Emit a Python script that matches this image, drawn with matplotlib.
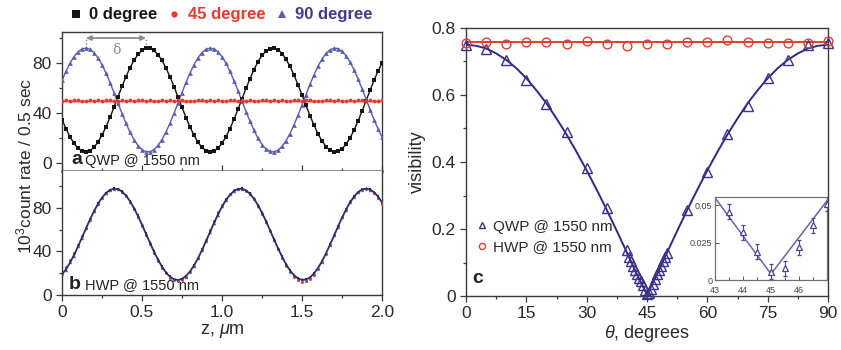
import matplotlib
matplotlib.use("Agg")
import matplotlib.pyplot as plt
import numpy as np
from matplotlib.ticker import MultipleLocator, FixedLocator, FixedFormatter

plt.rcParams['font.family'] = ['Liberation Sans', 'DejaVu Sans']
plt.rcParams['mathtext.fontset'] = 'custom'
plt.rcParams['mathtext.rm'] = 'Liberation Sans'
plt.rcParams['mathtext.it'] = 'Liberation Sans:italic'

# ---------------- data ----------------
# panel a: QWP @ 1550 nm, z positions (um), 25 nm steps
z_a = np.linspace(0.0, 2.0, 81)
black_a = [34.9, 27.6, 21.1, 15.8, 12.0, 9.7, 9.0, 10.0, 12.7, 16.9,
           22.4, 29.1, 36.6, 44.7, 53.1, 61.3, 69.1, 76.2, 82.2, 86.9,
           90.1, 91.8, 91.8, 90.1, 86.8, 82.1, 76.0, 69.0, 61.2, 52.9,
           44.6, 36.5, 29.0, 22.3, 16.8, 12.6, 10.0, 9.0, 9.7, 12.0,
           15.9, 21.2, 27.7, 35.1, 43.1, 51.4, 59.7, 67.6, 74.8, 81.1,
           86.1, 89.6, 91.6, 91.9, 90.6, 87.6, 83.1, 77.3, 70.4, 62.7,
           54.6, 46.2, 38.0, 30.4, 23.5, 17.8, 13.3, 10.4, 9.1, 9.4,
           11.5, 15.1, 20.1, 26.4, 33.6, 41.5, 49.8, 58.1, 66.1, 73.5,
           79.9]
blue_a = [66.1, 73.4, 79.9, 85.2, 89.0, 91.3, 92.0, 91.0, 88.3, 84.1,
          78.6, 71.9, 64.4, 56.3, 47.9, 39.7, 31.9, 24.8, 18.8, 14.1,
          10.9, 9.2, 9.2, 10.9, 14.2, 18.9, 25.0, 32.0, 39.8, 48.1,
          56.4, 64.5, 72.0, 78.7, 84.2, 88.4, 91.0, 92.0, 91.3, 89.0,
          85.1, 79.8, 73.3, 65.9, 57.9, 49.6, 41.3, 33.4, 26.2, 19.9,
          14.9, 11.4, 9.4, 9.1, 10.4, 13.4, 17.9, 23.7, 30.6, 38.3,
          46.4, 54.8, 63.0, 70.6, 77.5, 83.2, 87.7, 90.6, 91.9, 91.6,
          89.5, 85.9, 80.9, 74.6, 67.4, 59.5, 51.2, 42.9, 34.9, 27.5,
          21.1]
red_a = [49.8, 50.3, 49.6, 50.1, 50.4, 49.7, 50.0, 50.5, 49.9, 50.2,
         49.5, 50.1, 50.3, 49.8, 50.0, 50.4, 49.7, 50.2, 49.9, 50.6,
         50.1, 49.8, 50.3, 49.6, 50.0, 50.2, 49.9, 50.5, 49.7, 50.1,
         50.3, 49.8, 50.0, 49.6, 50.2, 50.4, 49.9, 50.1, 49.7, 50.3,
         50.0, 49.8, 50.5, 50.1, 49.6, 50.2, 49.9, 50.3, 50.0, 49.7,
         50.4, 50.1, 49.8, 50.2, 49.9, 50.6, 50.0, 49.7, 50.3, 50.1,
         49.8, 50.2, 50.4, 49.9, 50.0, 49.6, 50.3, 50.1, 49.8, 50.5,
         50.0, 49.7, 50.2, 49.9, 50.3, 50.1, 49.8, 50.4, 50.0, 49.7,
         50.2]

# panel b: HWP @ 1550 nm
z_b = np.linspace(0.0, 2.0, 81)
fit_b = [18.9, 23.7, 29.7, 36.8, 44.6, 52.9, 61.2, 69.4, 77.0, 83.8,
         89.5, 93.8, 96.6, 97.8, 97.3, 95.1, 91.4, 86.2, 79.9, 72.6,
         64.6, 56.2, 47.9, 39.8, 32.4, 26.0, 20.7, 16.8, 14.5, 13.8,
         14.8, 17.4, 21.6, 27.2, 33.8, 41.4, 49.5, 57.9, 66.2, 74.1,
         81.2, 87.4, 92.2, 95.7, 97.5, 97.7, 96.2, 93.0, 88.5, 82.5,
         75.6, 67.8, 59.6, 51.2, 43.0, 35.3, 28.4, 22.6, 18.2, 15.2,
         13.9, 14.2, 16.2, 19.8, 24.8, 31.0, 38.3, 46.2, 54.5, 62.9,
         71.0, 78.5, 85.1, 90.5, 94.5, 97.0, 97.8, 97.0, 94.5, 90.5,
         85.1]
black_b = [18.5, 23.9, 29.2, 37.3, 44.1, 53.4, 60.8, 69.9, 76.5, 84.2,
           89.1, 94.2, 96.3, 98.1, 97.0, 95.5, 91.0, 86.7, 79.4, 73.1,
           64.1, 56.7, 47.4, 40.3, 31.9, 26.5, 20.3, 17.2, 14.1, 14.2,
           14.4, 17.9, 21.2, 27.7, 33.3, 41.9, 49.0, 58.4, 65.7, 74.6,
           80.8, 87.9, 91.8, 96.0, 97.2, 98.0, 95.8, 93.4, 88.1, 83.0,
           75.1, 68.3, 59.1, 51.7, 42.5, 35.8, 27.9, 23.1, 17.8, 15.6,
           13.5, 14.6, 15.8, 20.3, 24.3, 31.5, 37.8, 46.7, 54.0, 63.4,
           70.5, 79.0, 84.6, 90.9, 94.1, 97.4, 97.5, 97.3, 94.1, 90.9,
           84.7]
red_b = [20.5, 26.0, 32.1, 38.9, 46.2, 54.1, 62.0, 70.1, 77.4, 84.0,
         89.4, 93.6, 96.4, 97.6, 97.1, 94.8, 90.9, 85.6, 79.2, 71.8,
         63.7, 55.4, 47.0, 38.9, 31.5, 25.1, 19.8, 15.9, 13.4, 12.6,
         13.6, 16.5, 21.0, 27.0, 34.2, 42.3, 50.8, 59.6, 68.1, 76.0,
         82.9, 88.7, 93.0, 96.2, 97.6, 97.5, 95.7, 92.4, 87.8, 81.8,
         74.8, 67.0, 58.7, 50.3, 41.9, 34.1, 27.1, 21.3, 16.8, 13.6,
         12.3, 12.6, 14.8, 18.6, 23.8, 30.3, 37.9, 46.2, 54.8, 63.5,
         71.8, 79.4, 86.0, 91.2, 95.0, 97.2, 97.7, 96.6, 93.8, 89.5,
         83.6]
blue_b = [19.4, 23.2, 30.1, 36.3, 45.0, 52.4, 61.7, 68.9, 77.5, 83.3,
          89.9, 93.4, 96.9, 97.5, 97.6, 94.7, 91.8, 85.8, 80.3, 72.2,
          65.0, 55.8, 48.3, 39.4, 32.8, 25.6, 21.1, 16.4, 14.9, 13.4,
          15.2, 17.0, 22.0, 26.8, 34.2, 41.0, 49.9, 57.5, 66.6, 73.7,
          81.6, 87.0, 92.6, 95.3, 97.9, 97.4, 96.6, 92.6, 88.9, 82.1,
          76.0, 67.4, 60.0, 50.8, 43.4, 34.9, 28.8, 22.2, 18.6, 14.8,
          14.3, 13.8, 16.6, 19.4, 25.2, 30.6, 38.7, 45.8, 54.9, 62.5,
          71.4, 78.1, 85.5, 90.1, 94.9, 96.6, 98.1, 96.7, 94.9, 90.2,
          85.5]

z_ticks = [0, 0.5, 1.0, 1.5, 2.0]
z_ticklabels = ['0', '0.5', '1.0', '1.5', '2.0']

# panel c: visibility vs theta
theta_qwp = [0, 5, 10, 15, 20, 25, 30, 35,
             40, 40.5, 41, 41.5, 42, 42.5, 43, 43.5, 44, 44.5, 45,
             45.5, 46, 46.5, 47, 47.5, 48, 48.5, 49, 49.5, 50,
             55, 60, 65, 70, 75, 80, 85, 90]
vis_qwp = [0.750, 0.736, 0.705, 0.645, 0.572, 0.489, 0.381, 0.264,
           0.137, 0.117, 0.104, 0.091, 0.078, 0.065, 0.053, 0.0455, 0.032, 0.019, 0.0055,
           0.008, 0.022, 0.0367, 0.051, 0.065, 0.078, 0.091, 0.104, 0.117, 0.128,
           0.257, 0.371, 0.483, 0.568, 0.650, 0.705, 0.750, 0.755]
theta_fit = [0, 2.5, 5, 7.5, 10, 12.5, 15, 17.5, 20, 22.5, 25, 27.5, 30, 32.5,
             35, 37.5, 40, 42.5, 45, 47.5, 50, 52.5, 55, 57.5, 60, 62.5, 65,
             67.5, 70, 72.5, 75, 77.5, 80, 82.5, 85, 87.5, 90]
vis_fit = [0.750, 0.747, 0.739, 0.724, 0.705, 0.680, 0.650, 0.614, 0.575,
           0.530, 0.482, 0.430, 0.375, 0.317, 0.257, 0.194, 0.130, 0.065,
           0.004, 0.065, 0.130, 0.194, 0.257, 0.317, 0.375, 0.430, 0.482,
           0.530, 0.575, 0.614, 0.650, 0.680, 0.705, 0.724, 0.739, 0.747, 0.750]
theta_hwp = [0, 5, 10, 15, 20, 25, 30, 35, 40, 45, 50, 55, 60, 65, 70, 75, 80, 85, 90]
vis_hwp = [0.755, 0.757, 0.753, 0.759, 0.757, 0.753, 0.761, 0.753, 0.747, 0.752,
           0.752, 0.757, 0.757, 0.763, 0.758, 0.755, 0.756, 0.755, 0.760]
hwp_fit_theta = [0, 90]
hwp_fit_vis = [0.758, 0.758]
theta_ticks = [0, 15, 30, 45, 60, 75, 90]
vis_ticks = [0, 0.2, 0.4, 0.6, 0.8]
vis_ticklabels = ['0', '0.2', '0.4', '0.6', '0.8']

# inset
theta_in = [43.5, 44, 44.5, 45, 45.5, 46, 46.5, 47]
vis_in = [0.0455, 0.032, 0.019, 0.0055, 0.008, 0.022, 0.0367, 0.051]
err_in = [0.005, 0.005, 0.005, 0.005, 0.005, 0.005, 0.005, 0.005]
theta_in_fit = [43, 45, 47]
vis_in_fit = [0.055, 0.004, 0.053]
in_xticks = [43, 44, 45, 46]
in_yticks = [0, 0.025, 0.05]
in_yticklabels = ['0', '0.025', '0.05']

# ---------------- style ----------------
C_BLACK = '#151515'
C_RED = '#e83a2e'
C_BLUE = '#5a5fae'
C_NAVY = '#3a3290'
C_SPINE = '#3a3a3a'
W, H = 841, 350


def fx(x):
    return x / W


def fy(y):
    return 1 - y / H


fig = plt.figure(figsize=(W / 100, H / 100), dpi=100)

L, R = 62, 382
axa = fig.add_axes([fx(L), fy(171), fx(R - L), (171 - 32) / H])
axb = fig.add_axes([fx(L), fy(295), fx(R - L), (295 - 171) / H])
axc = fig.add_axes([fx(466), fy(296), fx(828 - 466), (296 - 28) / H])
axin = fig.add_axes([fx(715), fy(280), fx(827 - 715), (280 - 197) / H])

TICK_FS = 12.5
for ax in (axa, axb, axc):
    for s in ax.spines.values():
        s.set_color(C_SPINE)
        s.set_linewidth(1.0)
    ax.tick_params(which='both', direction='out', color=C_SPINE,
                   labelsize=TICK_FS, labelcolor='#2a2a2a', width=0.9)
    ax.tick_params(which='major', length=4)
    ax.tick_params(which='minor', length=2.5)

# ---- panel a ----
axa.plot(z_a, black_a, color=C_BLACK, lw=1.0, zorder=2)
axa.plot(z_a, blue_a, color=C_BLUE, lw=1.0, zorder=2)
red_mean = float(np.mean(red_a))
axa.plot([z_a[0], z_a[-1]], [red_mean, red_mean], color=C_RED, lw=1.0, zorder=2)
h0, = axa.plot(z_a, black_a, 's', color=C_BLACK, ms=3.2, mew=0, zorder=3)
h90, = axa.plot(z_a, blue_a, '^', color=C_BLUE, ms=3.4, mew=0, zorder=3)
h45, = axa.plot(z_a, red_a, 'o', color=C_RED, ms=2.8, mew=0, zorder=3)
axa.set_xlim(0, 2.0)
axa.set_ylim(-6.2, 104.8)
axa.yaxis.set_major_locator(FixedLocator([0, 40, 80]))
axa.yaxis.set_minor_locator(FixedLocator([20, 60, 100]))
axa.xaxis.set_major_locator(FixedLocator(z_ticks))
axa.xaxis.set_minor_locator(FixedLocator([0.25, 0.75, 1.25, 1.75]))
axa.tick_params(axis='x', which='both', direction='in', labelbottom=False)
axa.spines['bottom'].set_color('#6a6a6a')
axa.spines['bottom'].set_linewidth(1.8)

# delta arrow between first blue peak and first black peak
i_blue = int(np.argmax(blue_a[:20]))
i_black = int(np.argmax(black_a[:30]))
zb, zk = z_a[i_blue], z_a[i_black]
yarr = 100
axa.annotate('', xy=(zb, yarr), xytext=(zk, yarr),
             arrowprops=dict(arrowstyle='<|-|>', color='#8a8a8a', lw=1.3,
                             mutation_scale=7, shrinkA=0, shrinkB=0))
axa.plot([zb, zb], [blue_a[i_blue], yarr], ':', color='#8a8a8a', lw=1.0)
axa.plot([zk, zk], [black_a[i_black], yarr], ':', color='#8a8a8a', lw=1.0)
axa.text((zb + zk) / 2, 96, 'δ', color='#8a8a8a', fontsize=10, ha='center', va='top',
         family=['DejaVu Serif'])

axa.text(0.028, 0.02, 'a', transform=axa.transAxes, fontsize=14, fontweight='bold',
         ha='left', va='bottom', color='#222222')
axa.text(0.072, 0.025, 'QWP @ 1550 nm', transform=axa.transAxes, fontsize=10.5,
         ha='left', va='bottom', color='#222222')

# ---- panel b ----
axb.plot(z_b, black_b, 's', color=C_BLACK, ms=2.0, mew=0, zorder=3)
axb.plot(z_b, red_b, 'o', color=C_RED, ms=2.2, mew=0, zorder=3)
axb.plot(z_b, blue_b, '^', color=C_BLUE, ms=2.4, mew=0, zorder=3)
axb.plot(z_b, fit_b, color='#2c2c66', lw=1.3, zorder=4)
axb.set_xlim(0, 2.0)
axb.set_ylim(0, 114)
axb.yaxis.set_major_locator(FixedLocator([0, 40, 80]))
axb.yaxis.set_minor_locator(FixedLocator([20, 60, 100]))
axb.xaxis.set_major_locator(FixedLocator(z_ticks))
axb.xaxis.set_major_formatter(FixedFormatter(z_ticklabels))
axb.xaxis.set_minor_locator(FixedLocator([0.25, 0.75, 1.25, 1.75]))
axb.spines['top'].set_visible(False)
axb.set_xlabel(r'z, $\mathit{\mu}$m', fontsize=13, labelpad=1, color='#2a2a2a')
axb.text(0.02, 0.02, 'b', transform=axb.transAxes, fontsize=14, fontweight='bold',
         ha='left', va='bottom', color='#222222')
axb.text(0.072, 0.025, 'HWP @ 1550 nm', transform=axb.transAxes, fontsize=10.5,
         ha='left', va='bottom', color='#222222')

fig.text(fx(24), fy(166), r'10$^3$count rate / 0.5 sec', rotation=90, fontsize=12.5,
         ha='center', va='center', color='#2a2a2a')

# top legend
leg = fig.legend(handles=[h0, h45, h90], labels=['0 degree', '45 degree', '90 degree'],
                 loc='center', bbox_to_anchor=(fx(222), fy(15)), ncol=3, frameon=False,
                 prop={'weight': 'bold', 'size': 12}, handlelength=0.6,
                 handletextpad=0.5, columnspacing=0.7, markerscale=1.6, borderpad=0)
for t, c in zip(leg.get_texts(), [C_BLACK, C_RED, '#3f3a8e']):
    t.set_color(c)

# ---- panel c ----
axc.plot(theta_fit, vis_fit, color='#2e2a80', lw=1.4, zorder=2)
axc.plot(hwp_fit_theta, hwp_fit_vis, color=C_RED, lw=1.4, zorder=2)
hq, = axc.plot(theta_qwp, vis_qwp, '^', mfc='none', mec=C_NAVY, ms=7.0, mew=1.0,
               zorder=3, clip_on=False)
hh, = axc.plot(theta_hwp, vis_hwp, 'o', mfc='none', mec=C_RED, ms=6.3, mew=1.0,
               zorder=3, clip_on=False)
axc.set_xlim(0, 90)
axc.set_ylim(0, 0.8)
axc.xaxis.set_major_locator(FixedLocator(theta_ticks))
axc.xaxis.set_minor_locator(MultipleLocator(7.5))
axc.yaxis.set_major_locator(FixedLocator(vis_ticks))
axc.yaxis.set_major_formatter(FixedFormatter(vis_ticklabels))
axc.yaxis.set_minor_locator(MultipleLocator(0.1))
axc.set_xlabel(r'$\mathit{\theta}$, degrees', fontsize=13, labelpad=1, color='#2a2a2a')
axc.set_ylabel('visibility', fontsize=13, labelpad=4, color='#2a2a2a')

lg = axc.legend(handles=[hq, hh], labels=['QWP @ 1550 nm', 'HWP @ 1550 nm'],
                loc='lower left', bbox_to_anchor=(0.0, 0.115), frameon=False,
                fontsize=11, handlelength=0.7, handletextpad=0.35, markerscale=0.7,
                borderpad=0.2, labelspacing=0.45)
for t in lg.get_texts():
    t.set_color('#2a2a2a')
axc.text(0.018, 0.035, 'c', transform=axc.transAxes, fontsize=14, fontweight='bold',
         ha='left', va='bottom', color='#222222')

# ---- inset ----
axin.plot(theta_in_fit, vis_in_fit, color='#6a64aa', lw=1.1, zorder=2)
axin.errorbar(theta_in, vis_in, yerr=err_in, fmt='^', mfc='white', mec='#4a4596',
              ecolor='#4a4596', ms=5, mew=0.9, elinewidth=0.8, capsize=1.5,
              zorder=3, clip_on=True)
axin.set_xlim(43, 47)
axin.set_ylim(0, 0.0555)
axin.xaxis.set_major_locator(FixedLocator(in_xticks))
axin.xaxis.set_minor_locator(MultipleLocator(0.5))
axin.yaxis.set_major_locator(FixedLocator(in_yticks))
axin.yaxis.set_major_formatter(FixedFormatter(in_yticklabels))
for s in axin.spines.values():
    s.set_color('#707070')
    s.set_linewidth(0.9)
axin.tick_params(which='both', direction='in', labelsize=6.5, color='#555555',
                 labelcolor='#444444', width=0.7)
axin.tick_params(axis='x', pad=4)
axin.tick_params(axis='y', pad=2)
axin.tick_params(which='major', length=3)
axin.tick_params(which='minor', length=2)

fig.savefig('out.png', dpi=100)
